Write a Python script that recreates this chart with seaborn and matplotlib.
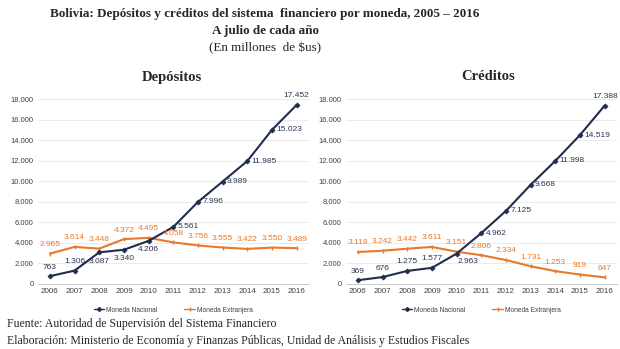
import matplotlib
matplotlib.use("Agg")
import matplotlib.pyplot as plt
import seaborn as sns
import pandas as pd

years = [2006, 2007, 2008, 2009, 2010, 2011, 2012, 2013, 2014, 2015, 2016]
dep_nacional = [763, 1306, 3087, 3340, 4206, 5561, 7996, 9989, 11985, 15023, 17452]
dep_extranjera = [2965, 3614, 3448, 4372, 4495, 4058, 3756, 3555, 3422, 3550, 3489]
cre_nacional = [369, 676, 1275, 1577, 2963, 4962, 7125, 9668, 11998, 14519, 17388]
cre_extranjera = [3118, 3242, 3442, 3611, 3151, 2806, 2334, 1731, 1253, 919, 647]
series_names = ["Moneda Nacional", "Moneda Extranjera"]
yticks = [0, 2000, 4000, 6000, 8000, 10000, 12000, 14000, 16000, 18000]

# label placements for the nacional series
dep_nac_pos = ["above", "above", "below", "below", "below", "right", "right", "right", "right", "right", "above"]
cre_nac_pos = ["above", "above", "above", "above", "belowright", "right", "right", "right", "right", "right", "above"]

NAVY = "#1F2D4E"
ORANGE = "#E8782A"

sns.set_theme(style="white")
plt.rcParams["font.family"] = ["Liberation Sans", "DejaVu Sans"]

fig = plt.figure(figsize=(6.2, 3.49), dpi=100)
fig.patch.set_facecolor("white")


def fmt(v):
    return f"{v:,}".replace(",", ".")


def draw(ax, nac, ext, nac_pos, title, title_x):
    df_nac = pd.DataFrame({"year": years, "value": nac})
    df_ext = pd.DataFrame({"year": years, "value": ext})
    sns.lineplot(data=df_ext, x="year", y="value", color=ORANGE, marker="|",
                 markersize=3.5, markeredgewidth=1.0, markeredgecolor=ORANGE,
                 linewidth=1.5, ax=ax, label=series_names[1], legend=False)
    sns.lineplot(data=df_nac, x="year", y="value", color=NAVY, marker="D",
                 markersize=2.6, markeredgewidth=0.5, markeredgecolor=NAVY,
                 linewidth=1.5, ax=ax, label=series_names[0], legend=False)
    for l in ax.lines:
        l.set_clip_on(False)
    ax.set_xlim(2005.5, 2016.5)
    ax.set_ylim(0, 18000)
    ax.set_yticks(yticks)
    ax.set_yticklabels([fmt(t) for t in yticks], fontsize=5.5, color="#404040")
    ax.set_xticks(years)
    ax.set_xticklabels([str(y) for y in years], fontsize=5.8, color="#404040")
    ax.tick_params(axis="both", length=0, pad=3)
    ax.grid(axis="y", color="#E8E8E8", linewidth=0.6)
    ax.set_axisbelow(True)
    for s in ["top", "right", "left"]:
        ax.spines[s].set_visible(False)
    ax.spines["bottom"].set_color("#BFBFBF")
    ax.spines["bottom"].set_linewidth(0.6)
    ax.set_xlabel("")
    ax.set_ylabel("")

    for x, v, p in zip(years, nac, nac_pos):
        if p == "above":
            off, ha, va = (0, 4), "center", "bottom"
        elif p == "below":
            off, ha, va = (0, -4), "center", "top"
        elif p == "belowright":
            off, ha, va = (1, -3), "left", "top"
        else:
            off, ha, va = (3, 0), "left", "center"
        ax.annotate(fmt(v), (x, v), xytext=off, textcoords="offset points",
                    ha=ha, va=va, fontsize=6.0, color="#2A3550", annotation_clip=False)
    for x, v in zip(years, ext):
        ax.annotate(fmt(v), (x, v), xytext=(0, 4), textcoords="offset points",
                    ha="center", va="bottom", fontsize=6.0, color=ORANGE, annotation_clip=False)

    handles = [
        plt.Line2D([], [], color=NAVY, marker="D", markersize=2, linewidth=1),
        plt.Line2D([], [], color=ORANGE, marker="|", markersize=3, linewidth=1),
    ]
    ax.legend(handles, series_names, loc="upper center", bbox_to_anchor=(0.5, -0.09),
              ncol=2, frameon=False, fontsize=4.8, handlelength=1.6, handletextpad=0.3,
              columnspacing=4.0, labelcolor="#404040")
    fig.text(title_x, 1 - 77 / 349, title, ha="center", va="center",
             fontsize=10.5, fontweight="bold", family="Liberation Serif")


bottom = 1 - 284 / 349
height = (284 - 99.3) / 349
ax1 = fig.add_axes([37.6 / 620, bottom, 271.4 / 620, height])
ax2 = fig.add_axes([345.6 / 620, bottom, 271.4 / 620, height])

draw(ax1, dep_nacional, dep_extranjera, dep_nac_pos, "Depósitos", 172 / 620)
draw(ax2, cre_nacional, cre_extranjera, cre_nac_pos, "Créditos", 488 / 620)

fig.text(265 / 620, 1 - 14 / 349, "Bolivia: Depósitos y créditos del sistema  financiero por moneda, 2005 – 2016",
         ha="center", va="center", fontsize=9.45, fontweight="bold", family="Liberation Serif")
fig.text(265 / 620, 1 - 31 / 349, "A julio de cada año",
         ha="center", va="center", fontsize=9.45, fontweight="bold", family="Liberation Serif")
fig.text(265 / 620, 1 - 48 / 349, "(En millones  de $us)",
         ha="center", va="center", fontsize=9.45, family="Liberation Serif")
fig.text(7 / 620, 1 - 324 / 349, "Fuente: Autoridad de Supervisión del Sistema Financiero",
         ha="left", va="center", fontsize=8.45, family="Liberation Serif")
fig.text(7 / 620, 1 - 341 / 349,
         "Elaboración: Ministerio de Economía y Finanzas Públicas, Unidad de Análisis y Estudios Fiscales",
         ha="left", va="center", fontsize=8.45, family="Liberation Serif")

fig.savefig("out.png", dpi=100, facecolor="white")
